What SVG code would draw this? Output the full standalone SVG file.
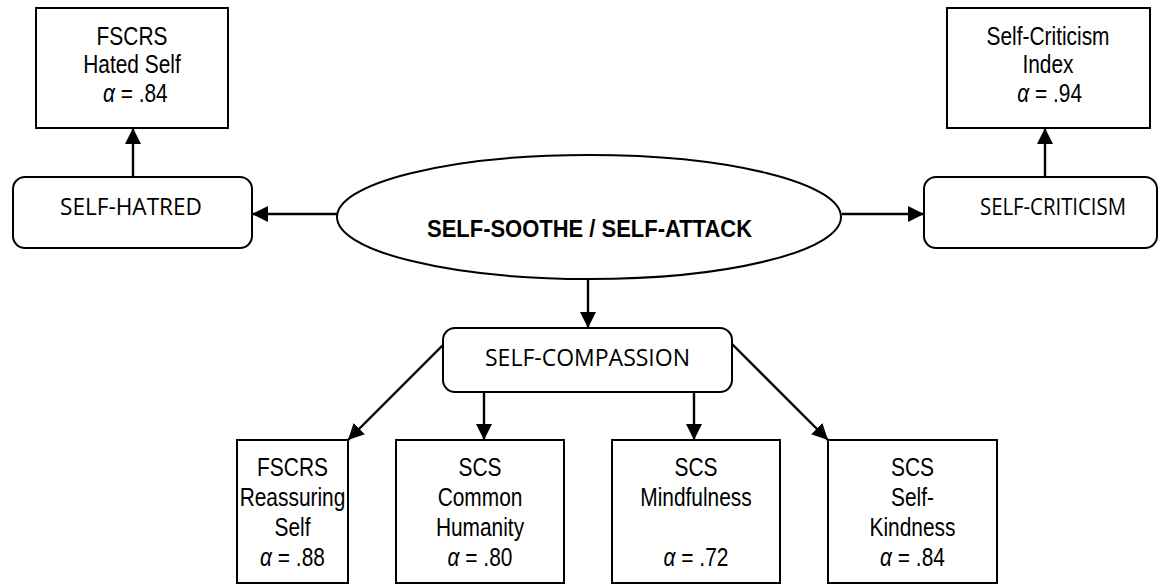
<svg xmlns="http://www.w3.org/2000/svg" width="1159" height="585" viewBox="0 0 1159 585">
  <style>
    .box { fill: #ffffff; stroke: #000000; stroke-width: 2; }
    .lbl { font-family: "Liberation Sans", Arial, sans-serif; font-size: 25.5px; fill: #000000; text-anchor: middle; }
    .cal { font-family: "Open Sans", "Liberation Sans", sans-serif; font-size: 23px; fill: #000000; text-anchor: middle; }
    .main { font-family: "Liberation Sans", Arial, sans-serif; font-size: 23.5px; font-weight: bold; fill: #000000; text-anchor: middle; }
    .it { font-style: italic; }
    .edge { stroke: #000000; stroke-width: 2.4; fill: none; marker-end: url(#arrow); }
  </style>
  <defs>
    <marker id="arrow" markerUnits="userSpaceOnUse" markerWidth="17" markerHeight="17" refX="16" refY="8" orient="auto">
      <path d="M0,0 L16,8 L0,16 Z" fill="#000000"/>
    </marker>
  </defs>

  <rect width="1159" height="585" fill="#ffffff"/>

  <!-- connectors -->
  <g id="connectors">
    <line class="edge" x1="133" y1="177" x2="133" y2="128"/>
    <line class="edge" x1="1045" y1="177" x2="1045" y2="128"/>
    <line class="edge" x1="338" y1="214" x2="252" y2="214"/>
    <line class="edge" x1="842" y1="214" x2="924" y2="214"/>
    <line class="edge" x1="588" y1="279" x2="588" y2="328"/>
    <line class="edge" x1="443" y1="345" x2="348" y2="440"/>
    <line class="edge" x1="484" y1="392" x2="484" y2="440"/>
    <line class="edge" x1="694" y1="392" x2="694" y2="440"/>
    <line class="edge" x1="732" y1="344" x2="828" y2="440"/>
  </g>

  <!-- indicator: FSCRS Hated Self -->
  <g id="fscrs-hated-self">
    <rect class="box" x="36" y="8" width="192" height="120"/>
    <g transform="translate(132 0) scale(0.82 1)">
      <text class="lbl" x="0" y="45">FSCRS</text>
      <text class="lbl" x="0" y="73.5">Hated Self</text>
      <text class="lbl" x="4" y="102"><tspan class="it">α</tspan> = .84</text>
    </g>
  </g>

  <!-- indicator: Self-Criticism Index -->
  <g id="self-criticism-index">
    <rect class="box" x="947" y="8" width="203" height="120"/>
    <g transform="translate(1048 0) scale(0.82 1)">
      <text class="lbl" x="0" y="45">Self-Criticism</text>
      <text class="lbl" x="0" y="73.5">Index</text>
      <text class="lbl" x="2" y="102"><tspan class="it">α</tspan> = .94</text>
    </g>
  </g>

  <!-- factor: SELF-HATRED -->
  <g id="self-hatred">
    <rect class="box" x="13" y="177" width="239" height="71" rx="12"/>
    <text class="cal" x="131" y="215" textLength="142" lengthAdjust="spacingAndGlyphs">SELF-HATRED</text>
  </g>

  <!-- factor: SELF-CRITICISM -->
  <g id="self-criticism">
    <rect class="box" x="924" y="177" width="233" height="71" rx="12"/>
    <text class="cal" x="1053" y="215" textLength="146" lengthAdjust="spacingAndGlyphs">SELF-CRITICISM</text>
  </g>

  <!-- latent: SELF-SOOTHE / SELF-ATTACK -->
  <g id="self-soothe-self-attack">
    <ellipse class="box" cx="589" cy="217" rx="252" ry="62"/>
    <text class="main" x="589.5" y="237" textLength="325" lengthAdjust="spacingAndGlyphs">SELF-SOOTHE / SELF-ATTACK</text>
  </g>

  <!-- factor: SELF-COMPASSION -->
  <g id="self-compassion">
    <rect class="box" x="443" y="328" width="289" height="64" rx="12"/>
    <text class="cal" x="587.5" y="366" textLength="205" lengthAdjust="spacingAndGlyphs">SELF-COMPASSION</text>
  </g>

  <!-- indicator: FSCRS Reassuring Self -->
  <g id="fscrs-reassuring-self">
    <rect class="box" x="237" y="440" width="111" height="143"/>
    <g transform="translate(292.5 0) scale(0.82 1)">
      <text class="lbl" x="0" y="476">FSCRS</text>
      <text class="lbl" x="0" y="506">Reassuring</text>
      <text class="lbl" x="0" y="536">Self</text>
      <text class="lbl" x="0" y="566"><tspan class="it">α</tspan> = .88</text>
    </g>
  </g>

  <!-- indicator: SCS Common Humanity -->
  <g id="scs-common-humanity">
    <rect class="box" x="396" y="440" width="168" height="143"/>
    <g transform="translate(480 0) scale(0.82 1)">
      <text class="lbl" x="0" y="476">SCS</text>
      <text class="lbl" x="0" y="506">Common</text>
      <text class="lbl" x="0" y="536">Humanity</text>
      <text class="lbl" x="0" y="566"><tspan class="it">α</tspan> = .80</text>
    </g>
  </g>

  <!-- indicator: SCS Mindfulness -->
  <g id="scs-mindfulness">
    <rect class="box" x="612" y="440" width="168" height="143"/>
    <g transform="translate(696 0) scale(0.82 1)">
      <text class="lbl" x="0" y="476">SCS</text>
      <text class="lbl" x="0" y="506">Mindfulness</text>
      <text class="lbl" x="0" y="566"><tspan class="it">α</tspan> = .72</text>
    </g>
  </g>

  <!-- indicator: SCS Self-Kindness -->
  <g id="scs-self-kindness">
    <rect class="box" x="828" y="440" width="169" height="143"/>
    <g transform="translate(912.5 0) scale(0.82 1)">
      <text class="lbl" x="0" y="476">SCS</text>
      <text class="lbl" x="0" y="506">Self-</text>
      <text class="lbl" x="0" y="536">Kindness</text>
      <text class="lbl" x="0" y="566"><tspan class="it">α</tspan> = .84</text>
    </g>
  </g>
</svg>
